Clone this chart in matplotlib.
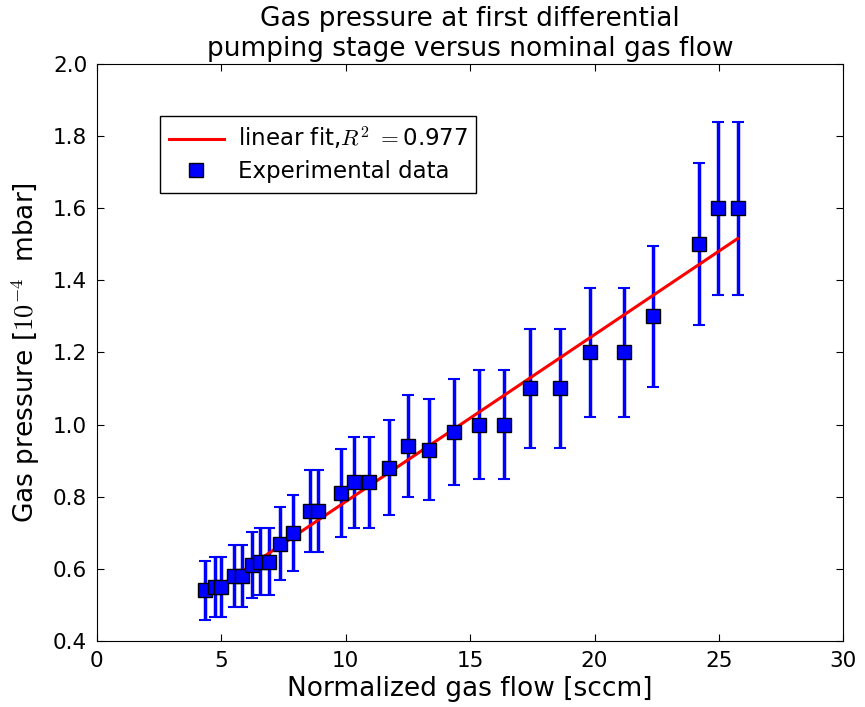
import numpy as np
import matplotlib
matplotlib.use("Agg")
import matplotlib.pyplot as plt

plt.rcParams['mathtext.fontset'] = 'cm'
plt.rcParams['xtick.direction'] = 'in'
plt.rcParams['ytick.direction'] = 'in'
plt.rcParams['xtick.top'] = True
plt.rcParams['ytick.right'] = True
plt.rcParams['xtick.major.size'] = 5
plt.rcParams['ytick.major.size'] = 5

flow = [4.35, 4.75, 5.0, 5.5, 5.85, 6.25, 6.55, 6.9, 7.35, 7.9, 8.55, 8.9, 9.8,
        10.35, 10.95, 11.75, 12.5, 13.35, 14.35, 15.35, 16.35, 17.4, 18.6, 19.8,
        21.2, 22.35, 24.2, 24.95, 25.75]
pressure = [0.54, 0.55, 0.55, 0.58, 0.58, 0.61, 0.62, 0.62, 0.67, 0.70, 0.76, 0.76, 0.81,
            0.84, 0.84, 0.88, 0.94, 0.93, 0.98, 1.00, 1.00, 1.10, 1.10, 1.20,
            1.20, 1.30, 1.50, 1.60, 1.60]
p_err = [0.081, 0.083, 0.083, 0.087, 0.087, 0.092, 0.093, 0.093, 0.10, 0.105, 0.114, 0.114, 0.122,
         0.126, 0.126, 0.132, 0.141, 0.14, 0.147, 0.15, 0.15, 0.165, 0.165, 0.18,
         0.18, 0.195, 0.225, 0.24, 0.24]

x = np.array(flow)
y = np.array(pressure)
err = np.array(p_err)
slope, icpt = np.polyfit(x, y, 1)
xfit = np.array([x.min(), x.max()])

fig = plt.figure(figsize=(8.65, 7.07), dpi=100)
ax = fig.add_axes([0.112, 0.0935, 0.863, 0.816])

ax.errorbar(x, y, yerr=err, fmt='none', ecolor='blue',
            elinewidth=2.5, capsize=4, capthick=1.5, zorder=1)
ax.plot(xfit, slope * xfit + icpt, color='red', linewidth=2.2,
        label=r'linear fit,$R^2\ =$0.977', zorder=2)
ax.plot(x, y, 's', color='blue', markersize=10, markeredgecolor='black',
        markeredgewidth=1, label='Experimental data', zorder=3)

ax.set_xlim(0, 30)
ax.set_ylim(0.4, 2.0)
ax.set_xticks([0, 5, 10, 15, 20, 25, 30])
ax.set_yticks(np.arange(0.4, 2.01, 0.2))
ax.tick_params(labelsize=15.5, pad=7)
ax.set_xlabel('Normalized gas flow [sccm]', fontsize=19)
ax.set_ylabel(r'Gas pressure [$10^{-4}\ $ mbar]', fontsize=19, labelpad=8)
ax.set_title('Gas pressure at first differential\npumping stage versus nominal gas flow',
             fontsize=19)

leg = ax.legend(loc='upper left', bbox_to_anchor=(0.084, 0.91),
                fontsize=16.5, numpoints=1, fancybox=False, framealpha=1,
                edgecolor='black', borderaxespad=0, handlelength=2.4,
                handletextpad=0.6, labelspacing=0.35)
leg.get_frame().set_linewidth(1)

plt.savefig("out.png", dpi=100)
